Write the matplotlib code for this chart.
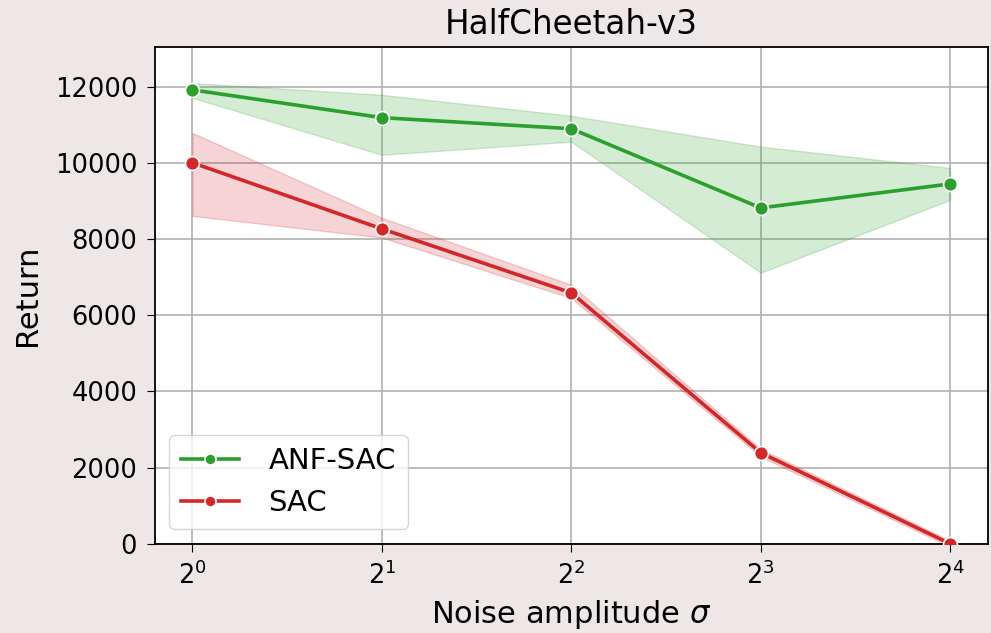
import matplotlib
matplotlib.use("Agg")
import matplotlib.pyplot as plt
import numpy as np

# ── Data ──────────────────────────────────────────────
noise = [1, 2, 4, 8, 16]

anf_mean = [11920, 11190, 10900, 8820, 9450]
anf_lo   = [11710, 10215, 10560, 7120, 9030]
anf_hi   = [12100, 11790, 11240, 10430, 9870]

sac_mean = [10005, 8270, 6590, 2390, 0]
sac_lo   = [8610, 8040, 6450, 2290, -80]
sac_hi   = [10790, 8560, 6800, 2490, 80]

plt.rcParams["font.family"] = ["DejaVu Sans"]

fig = plt.figure(figsize=(9.91, 6.33), dpi=100, facecolor="#ede7e7")
ax = fig.add_axes([0.156, 0.141, 0.841, 0.785])
ax.set_facecolor("white")

green = "#2ca02c"
red = "#d62728"

for mean, lo, hi, col, lab in [
    (anf_mean, anf_lo, anf_hi, green, "ANF-SAC"),
    (sac_mean, sac_lo, sac_hi, red, "SAC"),
]:
    ax.fill_between(noise, lo, hi, color=col, alpha=0.2, linewidth=1)
    ax.plot(noise, mean, color=col, lw=2.6, marker="o", markersize=10,
            markeredgecolor="white", markeredgewidth=1.2, label=lab, zorder=3)

ax.set_xscale("log", base=2)
ax.set_xticks(noise)
ax.set_xticklabels([rf"$2^{{{i}}}$" for i in range(5)])
ax.minorticks_off()
ax.set_ylim(0, 13050)
ax.set_yticks(np.arange(0, 12001, 2000))

ax.grid(True, color="#b0b0b0", lw=1.2)
ax.set_axisbelow(True)
ax.tick_params(labelsize=18.5, length=5.5, pad=7)
ax.set_xlabel(r"Noise amplitude $\sigma$", fontsize=22, labelpad=6)
ax.set_ylabel("Return", fontsize=22, labelpad=9)
ax.set_title("HalfCheetah-v3", fontsize=23.5, pad=9)
for s in ax.spines.values():
    s.set_linewidth(1.3)

ax.legend(loc="lower left", fontsize=21, borderaxespad=0.5, markerscale=0.8,
          handletextpad=1.0)

fig.savefig("out.png", dpi=100, facecolor=fig.get_facecolor())
